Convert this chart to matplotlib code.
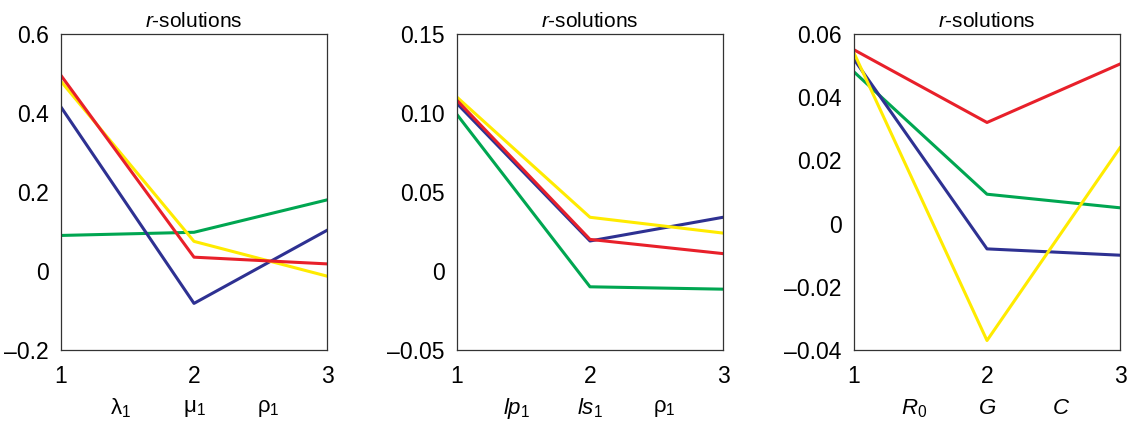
import matplotlib.pyplot as plt
import numpy as np

plt.rcParams['font.family'] = ['Liberation Sans', 'DejaVu Sans']
plt.rcParams['mathtext.fontset'] = 'custom'
plt.rcParams['mathtext.rm'] = 'Liberation Sans'
plt.rcParams['mathtext.it'] = 'Liberation Sans:italic'

x = [1, 2, 3]

# panel 1
p1_red = [0.495, 0.035, 0.018]
p1_yellow = [0.48, 0.075, -0.013]
p1_blue = [0.415, -0.082, 0.103]
p1_green = [0.09, 0.098, 0.18]
p1_yticks = [-0.2, 0, 0.2, 0.4, 0.6]
p1_ylabels = ['\u20130.2', '0', '0.2', '0.4', '0.6']
p1_cats = ['λ$_1$', 'μ$_1$', 'ρ$_1$']

# panel 2
p2_red = [0.108, 0.020, 0.011]
p2_yellow = [0.110, 0.034, 0.024]
p2_blue = [0.106, 0.019, 0.034]
p2_green = [0.099, -0.010, -0.0115]
p2_yticks = [-0.05, 0, 0.05, 0.10, 0.15]
p2_ylabels = ['\u20130.05', '0', '0.05', '0.10', '0.15']
p2_cats = ['$\\mathit{lp}_1$', '$\\mathit{ls}_1$', 'ρ$_1$']

# panel 3
p3_red = [0.055, 0.032, 0.0505]
p3_yellow = [0.054, -0.037, 0.024]
p3_blue = [0.052, -0.008, -0.010]
p3_green = [0.048, 0.0093, 0.005]
p3_yticks = [-0.04, -0.02, 0, 0.02, 0.04, 0.06]
p3_ylabels = ['\u20130.04', '\u20130.02', '0', '0.02', '0.04', '0.06']
p3_cats = ['$\\mathit{R}_0$', '$\\mathit{G}$', '$\\mathit{C}$']

cat_pos = [1.45, 2.0, 2.56]

RED = '#e8202a'
YELLOW = '#ffeb00'
BLUE = '#2e3192'
GREEN = '#00a651'

fig = plt.figure(figsize=(11.32, 4.25), dpi=100)
W, H = 1132, 425
lefts = [61, 457, 854]

panels = [
    (p1_red, p1_yellow, p1_blue, p1_green, p1_yticks, p1_ylabels, p1_cats),
    (p2_red, p2_yellow, p2_blue, p2_green, p2_yticks, p2_ylabels, p2_cats),
    (p3_red, p3_yellow, p3_blue, p3_green, p3_yticks, p3_ylabels, p3_cats),
]

for left, (red, yellow, blue, green, yt, yl, cats) in zip(lefts, panels):
    ax = fig.add_axes([left / W, 1 - 350 / H, 266 / W, 316 / H])
    ax.plot(x, green, color=GREEN, lw=2.2)
    ax.plot(x, blue, color=BLUE, lw=2.2)
    ax.plot(x, yellow, color=YELLOW, lw=2.2)
    ax.plot(x, red, color=RED, lw=2.2)
    ax.set_xlim(1, 3)
    ax.set_ylim(yt[0], yt[-1])
    ax.set_xticks(x)
    ax.set_xticklabels(['1', '2', '3'], fontsize=16.5)
    ax.set_yticks(yt)
    ax.set_yticklabels(yl, fontsize=16.5)
    ax.tick_params(which='major', length=0)
    ax.tick_params(axis='x', which='major', pad=11)
    ax.tick_params(axis='y', which='major', pad=9)
    ax.set_xticks([2], minor=True)
    ax.set_yticks(yt[1:-1], minor=True)
    ax.tick_params(which='minor', length=5, width=0.8, color='#333333')
    for s in ax.spines.values():
        s.set_linewidth(0.9)
        s.set_color('#333333')
    ax.set_title('$\\mathit{r}$-solutions', fontsize=15, pad=5)
    for cp, c in zip(cat_pos, cats):
        ax.text(cp, -0.185, c, transform=ax.get_xaxis_transform(),
                ha='center', va='center', fontsize=16)

plt.savefig('out.png', dpi=100)
